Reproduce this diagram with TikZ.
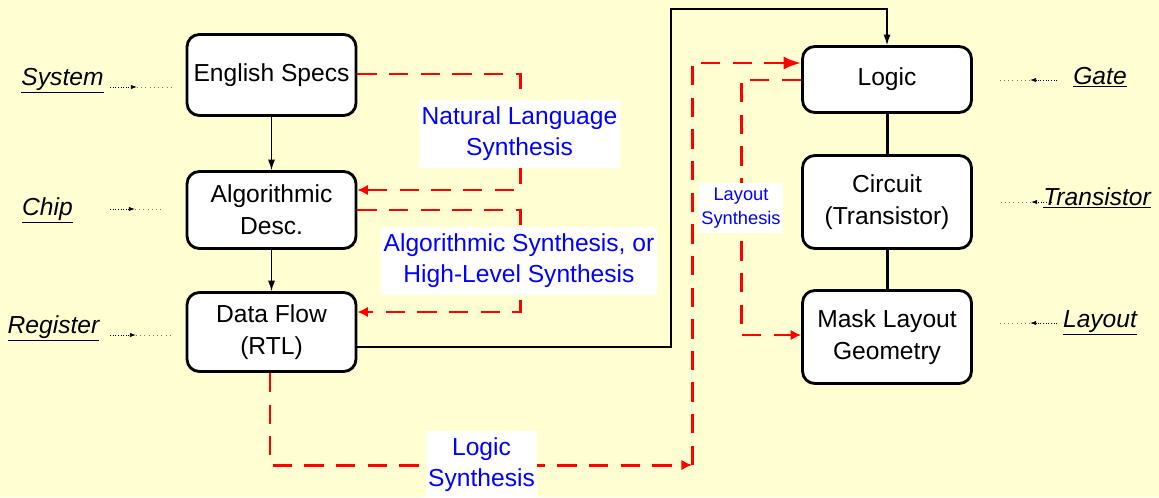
\documentclass[tikz,border=0pt]{standalone}
\usepackage{fontspec}
\setmainfont{Liberation Sans}
\usepackage{xcolor}
\usetikzlibrary{arrows.meta, positioning}

\definecolor{paleyellow}{RGB}{255,255,210}
\definecolor{synthred}{RGB}{255,0,0}
\definecolor{synthblue}{RGB}{0,0,255}

\tikzset{
  stage/.style={draw=black, line width=1.6pt, rounded corners=7pt, fill=white,
    minimum width=3.38cm, align=center, font=\fontsize{14}{18}\selectfont},
  flow/.style={draw=black, line width=0.6pt, -{Latex[length=6pt,width=4pt]}},
  link/.style={draw=black, line width=1.7pt},
  synth/.style={draw=synthred, line width=1.7pt, dash pattern=on 11pt off 7pt,
    -{Latex[length=6pt,width=6pt]}},
  bigtip/.style={-{Latex[length=10pt,width=7.5pt]}},
  synthlabel/.style={fill=white, text=synthblue, align=center, inner xsep=1.5pt,
    inner ysep=4pt, font=\fontsize{14}{17.5}\selectfont},
  smalllabel/.style={synthlabel, inner ysep=3pt, font=\fontsize{10.4}{13.6}\selectfont},
  level/.style={anchor=base, font=\fontsize{14}{17}\selectfont\itshape},
  pointer/.style={draw=black, line width=0.5pt, densely dotted,
    -{Latex[length=3.5pt,width=2.5pt]}},
  faint/.style={draw=black!55, line width=0.4pt, dotted}
}

\begin{document}
\begin{tikzpicture}[x=0.02cm, y=-0.02cm]
  \useasboundingbox (0,0) rectangle (1159,497);
  \fill[paleyellow] (0,0) rectangle (1159,497);

  % abstraction levels, left column
  \node[stage, minimum height=1.62cm] (specs) at (271.5,75) {English Specs};
  \node[stage, minimum height=1.54cm] (algo) at (271.5,210) {Algorithmic\\Desc.};
  \node[stage, minimum height=1.58cm] (rtl) at (271.5,332) {Data Flow\\(RTL)};

  % right column
  \node[stage, minimum height=1.32cm] (logic) at (887,79.5) {Logic};
  \node[stage, minimum height=1.86cm] (circuit) at (887,202) {Circuit\\(Transistor)};
  \node[stage, minimum height=1.86cm] (mask) at (887,337) {Mask Layout\\Geometry};

  \draw[flow] (specs) -- (algo);
  \draw[flow] (algo) -- (rtl);
  \draw[link] (logic) -- (circuit);
  \draw[link] (circuit) -- (mask);

  % rtl handed over to logic
  \coordinate (r1) at (671,347);
  \coordinate (r2) at (671,9);
  \draw[flow] (rtl.east |- r1) -- (r1) -- (r2) -- (logic.north |- r2) -- (logic.north);

  % synthesis steps
  \coordinate (n1) at (520,74);
  \coordinate (n2) at (520,190);
  \draw[synth] (specs.east |- n1) -- (n1) -- (n2) -- (algo.east |- n2);

  \coordinate (h1) at (520,210);
  \coordinate (h2) at (520,312);
  \draw[synth] (algo.east |- h1) -- (h1) -- (h2) -- (rtl.east |- h2);

  \coordinate (g1) at (270,465);
  \coordinate (g2) at (692,465);
  \coordinate (g3) at (692,63);
  \draw[synth] (rtl.south -| g1) -- (g1) -- (g2);
  \draw[synth, bigtip] (g2) -- (g3) -- (logic.west |- g3);

  \coordinate (y1) at (741,80);
  \coordinate (y2) at (741,335);
  \draw[synth] (logic.west |- y1) -- (y1) -- (y2) -- (mask.west |- y2);

  \node[synthlabel] (natlang) at (519.5,134) {Natural Language\\Synthesis};
  \node[synthlabel] (algsyn) at (519,261) {Algorithmic Synthesis, or\\High-Level Synthesis};
  \node[synthlabel] (logsyn) at (481.5,465) {Logic\\Synthesis};
  \node[smalllabel] (laysyn) at (741,208) {Layout\\Synthesis};

  % level names
  \node[level] (system) at (62.5,85) {\underline{System}};
  \node[level] (chip) at (47.5,215) {\underline{Chip}};
  \node[level] (register) at (53.5,333) {\underline{Register}};
  \node[level] (gate) at (1100,84) {\underline{Gate}};
  \node[level] (transistor) at (1097,205) {\underline{Transistor}};
  \node[level] (layout) at (1100,327) {\underline{Layout}};

  \coordinate (sa) at (110,87);  \coordinate (sb) at (137,87);  \coordinate (sc) at (172,87);
  \coordinate (ca) at (110,209); \coordinate (cb) at (135,209); \coordinate (cc) at (162,209);
  \coordinate (ra) at (110,335); \coordinate (rb) at (136,335); \coordinate (rc) at (172,335);
  \coordinate (ga) at (1057,80); \coordinate (gb) at (1030,80); \coordinate (gc) at (997,80);
  \coordinate (ta) at (1052,202); \coordinate (tb) at (1031,202); \coordinate (tc) at (1000,202);
  \coordinate (la) at (1057,323); \coordinate (lb) at (1030,323); \coordinate (lc) at (997,323);

  \draw[pointer] (sa) -- (sb); \draw[faint] (sb) -- (sc);
  \draw[pointer] (ca) -- (cb); \draw[faint] (cb) -- (cc);
  \draw[pointer] (ra) -- (rb); \draw[faint] (rb) -- (rc);
  \draw[pointer] (ga) -- (gb); \draw[faint] (gb) -- (gc);
  \draw[pointer] (ta) -- (tb); \draw[faint] (tb) -- (tc);
  \draw[pointer] (la) -- (lb); \draw[faint] (lb) -- (lc);
\end{tikzpicture}
\end{document}
